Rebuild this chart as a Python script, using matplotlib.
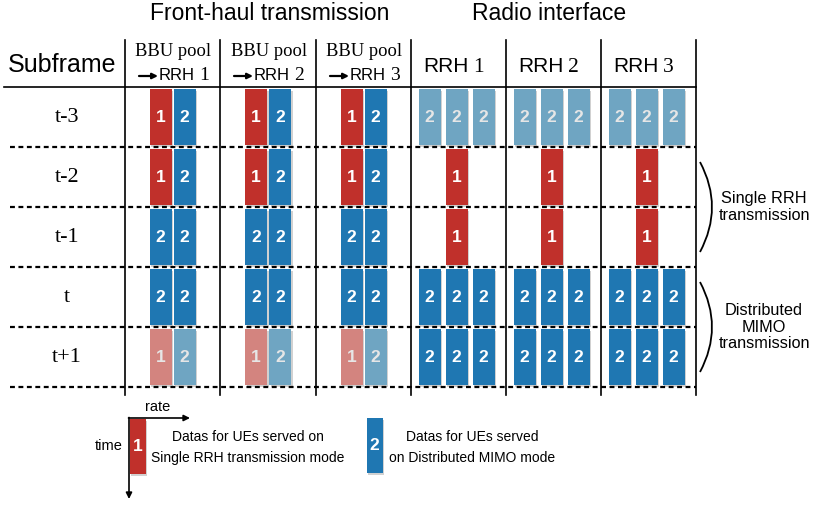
import matplotlib
matplotlib.use("Agg")
import matplotlib.pyplot as plt
from matplotlib.patches import Rectangle, PathPatch
from matplotlib.path import Path

# ---------------- data ----------------
subframes = ["t-3", "t-2", "t-1", "t", "t+1"]
fronthaul_titles = ["1", "2", "3"]          # BBU pool -> RRH n
radio_titles = ["1", "2", "3"]              # RRH n
# blocks in each front-haul column, per subframe (same for all three links)
fronthaul_blocks = [["1", "2"], ["1", "2"], ["2", "2"], ["2", "2"], ["1", "2"]]
fronthaul_faded = [False, False, False, False, True]
# blocks on radio interface, three slots per RRH ("" = empty)
radio_blocks = [["2", "2", "2"], ["", "1", ""], ["", "1", ""], ["2", "2", "2"], ["2", "2", "2"]]
radio_faded = [True, False, False, False, False]
group_labels = ["Single RRH\ntransmission", "Distributed\nMIMO\ntransmission"]
group_rows = [(1, 2), (3, 4)]
legend_texts = ["Datas for UEs served on\nSingle RRH transmission mode",
                "Datas for UEs served\non Distributed MIMO mode"]

# ---------------- style ----------------
SANS = "Liberation Sans"
SERIF = "Liberation Serif"
COLORS = {"1": "#c0302b", "2": "#1f77b2"}
FADED = {"1": "#d3847f", "2": "#6fa5c2"}

fig = plt.figure(figsize=(8.13, 5.05), dpi=100)
ax = fig.add_axes([0, 0, 1, 1])
ax.set_xlim(0, 813)
ax.set_ylim(505, 0)
ax.axis("off")

col_edges = [125, 220, 316, 411, 506, 601, 696]
header_top, header_bottom = 40, 87
row_h = 60
grid_bottom = 395


def block(xc, ytop, w, h, kind, faded):
    x0 = xc - w / 2
    ax.add_patch(Rectangle((x0 + 1.5, ytop + 1.5), w, h, facecolor="#000000",
                           alpha=0.18, lw=0, zorder=2))
    fc = FADED[kind] if faded else COLORS[kind]
    ax.add_patch(Rectangle((x0, ytop), w, h, facecolor=fc, edgecolor="none", zorder=3))
    ax.text(xc, ytop + h / 2, kind, color="#e6e6e6" if faded else "white",
            fontsize=12.5, fontweight="bold", family=SANS, ha="center", va="center", zorder=4)


# titles
ax.text(270, 14, "Front-haul transmission", family=SANS, fontsize=16.5, ha="center", va="center")
ax.text(549, 14, "Radio interface", family=SANS, fontsize=16.5, ha="center", va="center")
ax.text(62, 65, "Subframe", family=SANS, fontsize=18, ha="center", va="center")

# grid lines
for x in col_edges:
    ax.plot([x, x], [header_top, grid_bottom], color="black", lw=1.2, zorder=1)
ax.plot([4, col_edges[-1]], [header_bottom, header_bottom], color="black", lw=1.2, zorder=1)
for i in range(len(subframes)):
    y = header_bottom + (i + 1) * row_h
    ax.plot([10, col_edges[-1]], [y, y], color="black", lw=1.6,
            linestyle=(0, (2.2, 1.6)), zorder=1)

# column headers
for j, n in enumerate(fronthaul_titles):
    x0 = col_edges[j]
    xc = (x0 + col_edges[j + 1]) / 2
    ax.text(xc + 1, 51, "BBU pool", family=SERIF, fontsize=13.3, ha="center", va="center")
    ax.annotate("", xy=(x0 + 33, 76), xytext=(x0 + 14, 76),
                arrowprops=dict(arrowstyle="-|>", lw=1.6, color="black",
                                mutation_scale=8, shrinkA=0, shrinkB=0))
    ax.text(x0 + 34, 75, "RRH", family=SANS, fontsize=12, ha="left", va="center")
    ax.text(x0 + 74, 75, n, family=SERIF, fontsize=14, ha="left", va="center")
for j, n in enumerate(radio_titles):
    x0 = col_edges[3 + j]
    ax.text(x0 + 12, 67, "RRH", family=SANS, fontsize=15, ha="left", va="center")
    ax.text(x0 + 62, 67, n, family=SERIF, fontsize=15.5, ha="left", va="center")

# rows
for i, lab in enumerate(subframes):
    ytop = header_bottom + i * row_h
    ax.text(67, ytop + row_h / 2, lab, family=SERIF, fontsize=16, ha="center", va="center")
    # front-haul
    for j in range(3):
        xc = (col_edges[j] + col_edges[j + 1]) / 2
        kinds = fronthaul_blocks[i]
        for k, kind in enumerate(kinds):
            bx = xc + (k - (len(kinds) - 1) / 2) * 24
            block(bx, ytop + 2, 22, 56, kind, fronthaul_faded[i])
    # radio
    for j in range(3):
        xc = (col_edges[3 + j] + col_edges[4 + j]) / 2 - 2
        for k, kind in enumerate(radio_blocks[i]):
            if kind:
                bx = xc + (k - 1) * 27
                block(bx, ytop + 2, 22, 56, kind, radio_faded[i])

# group braces
for (r0, r1), lab in zip(group_rows, group_labels):
    y0 = header_bottom + r0 * row_h + 15
    y1 = header_bottom + (r1 + 1) * row_h - 15
    path = Path([(700, y0), (724, (y0 + y1) / 2), (700, y1)],
                [Path.MOVETO, Path.CURVE3, Path.CURVE3])
    ax.add_patch(PathPatch(path, fill=False, lw=1.3, edgecolor="black"))
    ax.text(764, (y0 + y1) / 2, lab, family=SANS, fontsize=11.7, ha="center",
            va="center", linespacing=1.1)

# legend
ax.annotate("", xy=(190, 418), xytext=(128.5, 418),
            arrowprops=dict(arrowstyle="-|>", lw=1.2, color="black",
                            mutation_scale=9, shrinkA=0, shrinkB=0))
ax.annotate("", xy=(129, 499), xytext=(129, 417.5),
            arrowprops=dict(arrowstyle="-|>", lw=1.2, color="black",
                            mutation_scale=9, shrinkA=0, shrinkB=0))
ax.text(158, 407, "rate", family=SANS, fontsize=10.5, ha="center", va="center")
ax.text(123, 446, "time", family=SANS, fontsize=10.5, ha="right", va="center")
block(137.5, 419, 16, 55, "1", False)
block(374.5, 418, 16, 55, "2", False)
ax.text(248, 447.5, legend_texts[0], family=SANS, fontsize=10, ha="center",
        va="center", linespacing=1.6)
ax.text(472, 447.5, legend_texts[1], family=SANS, fontsize=10, ha="center",
        va="center", linespacing=1.6)

fig.savefig("out.png", dpi=100)
